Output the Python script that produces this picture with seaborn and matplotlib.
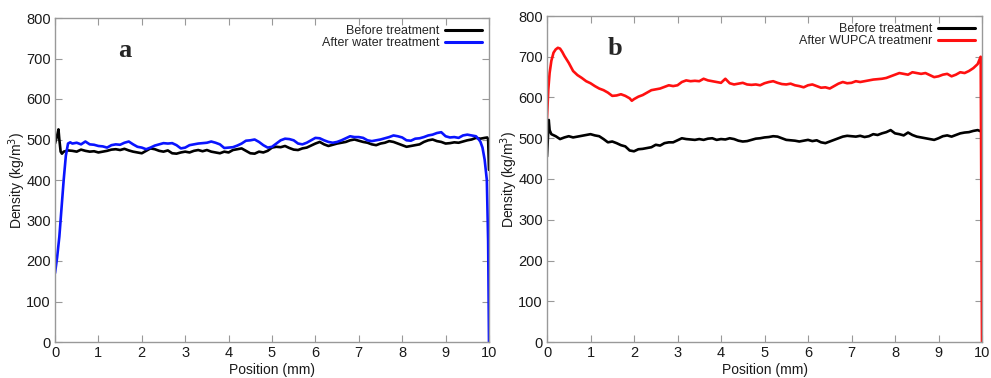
import matplotlib
matplotlib.use("Agg")
import matplotlib.pyplot as plt
import seaborn as sns
import pandas as pd

# ---------------- data ----------------
a_before_x = [0, 0.05, 0.08, 0.1, 0.13, 0.16, 0.2, 0.3, 0.4, 0.5, 0.6, 0.7, 0.8, 0.9, 1.0,
              1.1, 1.2, 1.3, 1.4, 1.5, 1.6, 1.7, 1.8, 1.9, 2.0, 2.1, 2.2, 2.3, 2.4, 2.5,
              2.6, 2.7, 2.8, 2.9, 3.0, 3.1, 3.2, 3.3, 3.4, 3.5, 3.6, 3.7, 3.8, 3.9, 4.0,
              4.1, 4.2, 4.3, 4.4, 4.5, 4.6, 4.7, 4.8, 4.9, 5.0, 5.1, 5.2, 5.3, 5.4, 5.5,
              5.6, 5.7, 5.8, 5.9, 6.0, 6.1, 6.2, 6.3, 6.4, 6.5, 6.6, 6.7, 6.8, 6.9, 7.0,
              7.1, 7.2, 7.3, 7.4, 7.5, 7.6, 7.7, 7.8, 7.9, 8.0, 8.1, 8.2, 8.3, 8.4, 8.5,
              8.6, 8.7, 8.8, 8.9, 9.0, 9.1, 9.2, 9.3, 9.4, 9.5, 9.6, 9.7, 9.8, 9.9, 9.96,
              9.98, 10.0]
a_before_y = [490, 510, 525, 500, 470, 465, 470, 473, 472, 470, 475, 472, 470, 471, 468,
              470, 472, 475, 476, 474, 477, 473, 470, 468, 466, 472, 478, 476, 472, 470,
              473, 466, 465, 468, 470, 468, 472, 474, 471, 474, 470, 468, 466, 470, 468,
              474, 476, 478, 472, 466, 465, 470, 468, 472, 480, 482, 481, 484, 479, 475,
              474, 478, 480, 485, 490, 494, 488, 484, 487, 490, 492, 494, 498, 500, 497,
              494, 492, 488, 486, 490, 492, 496, 494, 490, 486, 482, 484, 486, 488, 494,
              498, 500, 496, 494, 490, 491, 493, 492, 495, 498, 500, 504, 502, 504, 505,
              500, 425]

a_after_x = [0, 0.05, 0.1, 0.15, 0.2, 0.25, 0.3, 0.35, 0.4, 0.5, 0.6, 0.7, 0.8, 0.9, 1.0,
             1.1, 1.2, 1.3, 1.4, 1.5, 1.6, 1.7, 1.8, 1.9, 2.0, 2.1, 2.2, 2.3, 2.4, 2.5,
             2.6, 2.7, 2.8, 2.9, 3.0, 3.1, 3.2, 3.3, 3.4, 3.5, 3.6, 3.7, 3.8, 3.9, 4.0,
             4.1, 4.2, 4.3, 4.4, 4.5, 4.6, 4.7, 4.8, 4.9, 5.0, 5.1, 5.2, 5.3, 5.4, 5.5,
             5.6, 5.7, 5.8, 5.9, 6.0, 6.1, 6.2, 6.3, 6.4, 6.5, 6.6, 6.7, 6.8, 6.9, 7.0,
             7.1, 7.2, 7.3, 7.4, 7.5, 7.6, 7.7, 7.8, 7.9, 8.0, 8.1, 8.2, 8.3, 8.4, 8.5,
             8.6, 8.7, 8.8, 8.9, 9.0, 9.1, 9.2, 9.3, 9.4, 9.5, 9.6, 9.7, 9.75, 9.8, 9.85,
             9.9, 9.95, 9.98, 10.0]
a_after_y = [170, 210, 260, 330, 400, 460, 490, 493, 490, 492, 488, 495, 488, 487, 484,
             483, 480, 486, 488, 487, 492, 495, 488, 482, 480, 476, 480, 485, 488, 491,
             490, 491, 486, 478, 480, 486, 488, 490, 491, 492, 495, 492, 488, 479, 480,
             481, 485, 490, 497, 498, 500, 494, 486, 480, 482, 490, 498, 502, 501, 498,
             490, 488, 492, 498, 504, 503, 498, 494, 492, 494, 498, 503, 508, 506, 506,
             504, 498, 496, 498, 500, 503, 506, 510, 508, 505, 498, 497, 502, 503, 506,
             510, 512, 516, 518, 508, 505, 506, 504, 510, 512, 510, 508, 502, 495, 480,
             450, 400, 250, 0]

b_before_x = [0, 0.02, 0.04, 0.06, 0.1, 0.2, 0.3, 0.4, 0.5, 0.6, 0.7, 0.8, 0.9, 1.0,
              1.1, 1.2, 1.3, 1.4, 1.5, 1.6, 1.7, 1.8, 1.9, 2.0, 2.1, 2.2, 2.3, 2.4, 2.5,
              2.6, 2.7, 2.8, 2.9, 3.0, 3.1, 3.2, 3.3, 3.4, 3.5, 3.6, 3.7, 3.8, 3.9, 4.0,
              4.1, 4.2, 4.3, 4.4, 4.5, 4.6, 4.7, 4.8, 4.9, 5.0, 5.1, 5.2, 5.3, 5.4, 5.5,
              5.6, 5.7, 5.8, 5.9, 6.0, 6.1, 6.2, 6.3, 6.4, 6.5, 6.6, 6.7, 6.8, 6.9, 7.0,
              7.1, 7.2, 7.3, 7.4, 7.5, 7.6, 7.7, 7.8, 7.9, 8.0, 8.1, 8.2, 8.3, 8.4, 8.5,
              8.6, 8.7, 8.8, 8.9, 9.0, 9.1, 9.2, 9.3, 9.4, 9.5, 9.6, 9.7, 9.8, 9.9, 9.95,
              10.0]
b_before_y = [455, 500, 545, 520, 510, 505, 498, 502, 505, 502, 504, 506, 508, 510,
              507, 505, 498, 490, 492, 488, 483, 480, 470, 468, 473, 474, 476, 478, 484,
              482, 488, 490, 490, 495, 500, 498, 497, 496, 498, 496, 499, 500, 496, 498,
              497, 500, 498, 494, 492, 493, 496, 499, 500, 502, 503, 505, 504, 500, 496,
              495, 494, 492, 494, 496, 493, 495, 490, 488, 492, 496, 500, 504, 506, 505,
              504, 506, 503, 505, 510, 508, 512, 515, 520, 512, 510, 507, 514, 508, 504,
              502, 500, 498, 496, 500, 505, 507, 504, 508, 512, 514, 515, 518, 520, 518,
              515]

b_after_x = [0, 0.03, 0.06, 0.1, 0.15, 0.2, 0.25, 0.3, 0.35, 0.4, 0.5, 0.6, 0.7, 0.8,
             0.9, 1.0, 1.1, 1.2, 1.3, 1.4, 1.5, 1.6, 1.7, 1.8, 1.9, 1.95, 2.0, 2.1, 2.2,
             2.3, 2.4, 2.5, 2.6, 2.7, 2.8, 2.9, 3.0, 3.1, 3.2, 3.3, 3.4, 3.5, 3.6, 3.7,
             3.8, 3.9, 4.0, 4.1, 4.2, 4.3, 4.4, 4.5, 4.6, 4.7, 4.8, 4.9, 5.0, 5.1, 5.2,
             5.3, 5.4, 5.5, 5.6, 5.7, 5.8, 5.9, 6.0, 6.1, 6.2, 6.3, 6.4, 6.5, 6.6, 6.7,
             6.8, 6.9, 7.0, 7.1, 7.2, 7.3, 7.4, 7.5, 7.6, 7.7, 7.8, 7.9, 8.0, 8.1, 8.2,
             8.3, 8.4, 8.5, 8.6, 8.7, 8.8, 8.9, 9.0, 9.1, 9.2, 9.3, 9.4, 9.5, 9.6, 9.7,
             9.8, 9.9, 9.95, 9.97, 10.0]
b_after_y = [550, 620, 660, 690, 710, 718, 722, 720, 712, 702, 685, 665, 655, 648,
             640, 635, 628, 622, 618, 612, 604, 605, 608, 604, 598, 592, 596, 602, 606,
             612, 618, 620, 622, 626, 630, 628, 630, 638, 642, 640, 641, 640, 646, 642,
             640, 638, 636, 646, 635, 632, 634, 636, 632, 631, 632, 630, 635, 638, 640,
             636, 633, 632, 634, 630, 628, 625, 630, 632, 628, 624, 625, 622, 628, 634,
             638, 635, 636, 640, 638, 640, 642, 644, 645, 646, 648, 652, 656, 660, 658,
             656, 662, 660, 658, 660, 655, 650, 652, 656, 658, 652, 656, 662, 660, 665,
             672, 682, 695, 700, 0]

labels_a = ["Before treatment", "After water treatment"]
labels_b = ["Before treatment", "After WUPCA treatmenr"]
colors_a = ["black", "#0a14ff"]
colors_b = ["black", "#ff1010"]
x_ticks = [0, 1, 2, 3, 4, 5, 6, 7, 8, 9, 10]
y_ticks = [0, 100, 200, 300, 400, 500, 600, 700, 800]

# ---------------- plotting ----------------
sns.set_style("white")
plt.rcParams["font.family"] = ["Liberation Sans", "DejaVu Sans"]

fig = plt.figure(figsize=(9.91, 3.78), dpi=100)
ax1 = fig.add_axes([55 / 991, 36 / 378, 434 / 991, 324 / 378])
ax2 = fig.add_axes([547 / 991, 36 / 378, 435 / 991, 326 / 378])

def make_df(xb, yb, xa, ya, labels):
    d1 = pd.DataFrame({"Position": xb, "Density": yb, "Series": labels[0]})
    d2 = pd.DataFrame({"Position": xa, "Density": ya, "Series": labels[1]})
    return pd.concat([d1, d2], ignore_index=True)

panels = [
    (ax1, make_df(a_before_x, a_before_y, a_after_x, a_after_y, labels_a), labels_a, colors_a, "a", 0.16),
    (ax2, make_df(b_before_x, b_before_y, b_after_x, b_after_y, labels_b), labels_b, colors_b, "b", 0.157),
]

for ax, df, labels, colors, tag, tx in panels:
    sns.lineplot(data=df, x="Position", y="Density", hue="Series",
                 palette=dict(zip(labels, colors)), hue_order=labels,
                 sort=False, estimator=None, linewidth=1.9, ax=ax)
    ax.set_xlim(0, 10)
    ax.set_ylim(0, 800)
    ax.set_xticks(x_ticks)
    ax.set_yticks(y_ticks)
    ax.tick_params(direction="in", length=5, width=0.8, color="#999999",
                   labelsize=10.5, labelcolor="#1a1a1a", top=True, right=True,
                   bottom=True, left=True, pad=3)
    for s in ax.spines.values():
        s.set_color("#999999")
        s.set_linewidth(1.0)
    ax.set_xlabel("Position (mm)", fontsize=10, color="#1a1a1a", labelpad=2)
    ax.set_ylabel("Density (kg/m$^3$)", fontsize=10, color="#1a1a1a", labelpad=-1)
    leg = ax.legend(loc="upper right", frameon=False, markerfirst=False,
                    fontsize=9, handlelength=3.0, handletextpad=0.4,
                    labelspacing=0.0, borderaxespad=0.15)
    for line in leg.get_lines():
        line.set_linewidth(2.2)
    ax.text(tx, 0.9, tag, transform=ax.transAxes, fontsize=19, fontweight="bold",
            family=["Liberation Serif", "DejaVu Serif"], ha="center", va="center")

fig.savefig("out.png", dpi=100)
